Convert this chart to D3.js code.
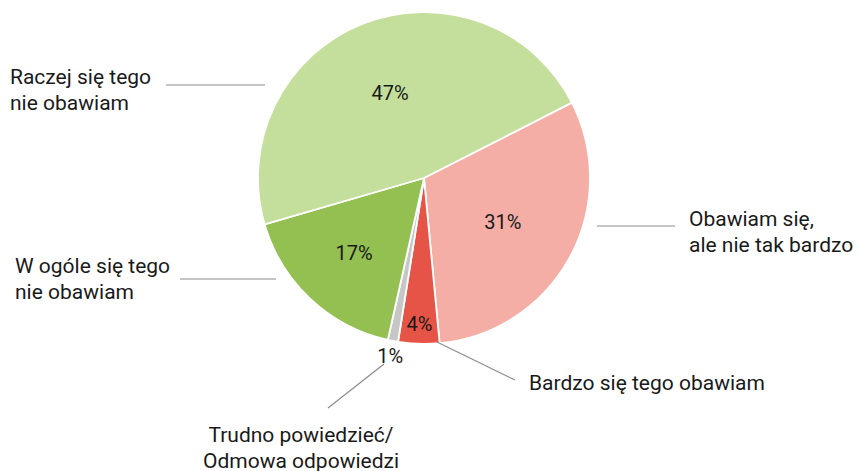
<!DOCTYPE html>
<html>
<head>
<meta charset="utf-8">
<script src="https://cdn.jsdelivr.net/npm/d3@7"></script>
<style>
  body { margin: 0; background: #fff; }
  text { font-family: Roboto, "Noto Sans", sans-serif; fill: #1a1a1a; }
</style>
</head>
<body>
<svg id="chart" width="859" height="471"></svg>
<script>
var categories = [
  "Obawiam się,|ale nie tak bardzo",
  "Bardzo się tego obawiam",
  "Trudno powiedzieć/|Odmowa odpowiedzi",
  "W ogóle się tego|nie obawiam",
  "Raczej się tego|nie obawiam"
];
var values = [31, 4, 1, 17, 47];
var colors = ["#f4aea6", "#e55446", "#c6c6c6", "#93c050", "#c4df9b"];

var w = 859, h = 471;
var cx = 424, cy = 178, radius = 166;
var startDeg = 63;

var svg = d3.select("#chart");
var g = svg.append("g").attr("transform", "translate(" + cx + "," + cy + ")");

var dataset = values.map(function(v, i) {
  return { name: categories[i], value: v, color: colors[i] };
});

var pie = d3.pie()
  .value(function(d) { return d.value; })
  .sort(null)
  .startAngle(startDeg * Math.PI / 180)
  .endAngle((startDeg + 360) * Math.PI / 180);

var arcs = pie(dataset);

var arc = d3.arc().innerRadius(0).outerRadius(radius);

g.selectAll("path")
  .data(arcs)
  .enter()
  .append("path")
  .attr("d", arc)
  .attr("fill", function(d) { return d.data.color; })
  .attr("stroke", "#fff")
  .attr("stroke-width", 1.8)
  .attr("stroke-linejoin", "round");

// percent labels, radius per slice
var labelR = [90, 146, 181, 102, 92];
g.selectAll("text.pct")
  .data(arcs)
  .enter()
  .append("text")
  .attr("class", "pct")
  .attr("transform", function(d, i) {
    var c = d3.arc().innerRadius(labelR[i]).outerRadius(labelR[i]).centroid(d);
    return "translate(" + c[0] + "," + c[1] + ")";
  })
  .attr("text-anchor", "middle")
  .attr("dy", "0.36em")
  .style("font-size", "20px")
  .text(function(d) { return d.data.value + "%"; });

// leader lines and category labels (absolute page coords)
var callouts = [
  { line: [[597, 226], [675, 226]], x: 689, y: 226, anchor: "start" },
  { line: [[437, 342], [515, 380]], x: 529, y: 390, anchor: "start" },
  { line: [[384, 364], [328, 408]], x: 301, y: 442, anchor: "middle" },
  { line: [[180, 279], [276, 279]], x: 15, y: 273, anchor: "start" },
  { line: [[166, 85], [265, 85]], x: 10, y: 84, anchor: "start" }
];

var lab = svg.append("g");
callouts.forEach(function(c, i) {
  lab.append("line")
    .attr("x1", c.line[0][0]).attr("y1", c.line[0][1])
    .attr("x2", c.line[1][0]).attr("y2", c.line[1][1])
    .attr("stroke", "#8c8c8c")
    .attr("stroke-width", 1.2);
  var t = lab.append("text")
    .attr("x", c.x)
    .attr("y", c.y)
    .attr("text-anchor", c.anchor)
    .style("font-size", "21px");
  categories[i].split("|").forEach(function(s, k) {
    t.append("tspan").attr("x", c.x).attr("dy", k === 0 ? 0 : 25.5).text(s);
  });
});
</script>
</body>
</html>
